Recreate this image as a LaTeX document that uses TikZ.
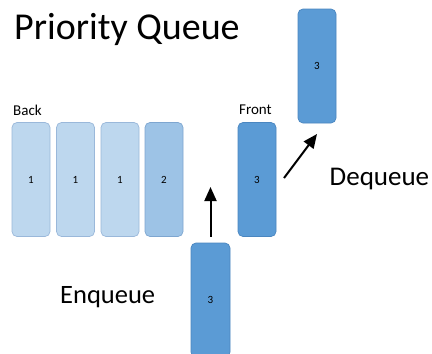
\documentclass[tikz,border=0pt]{standalone}
\usepackage{fontspec}
\setmainfont{Carlito}
\usetikzlibrary{arrows.meta}
\definecolor{lightfill}{HTML}{BDD7EE}
\definecolor{lightedge}{HTML}{9AB8DA}
\definecolor{midfill}{HTML}{9DC3E6}
\definecolor{midedge}{HTML}{7EA6D0}
\definecolor{darkfill}{HTML}{5B9BD5}
\definecolor{darkedge}{HTML}{4A86C0}
\tikzset{
  item/.style={rounded corners=5pt, minimum width=38pt, minimum height=114pt,
    inner sep=0pt, line width=0.7pt, font=\fontsize{11}{13}\selectfont},
  lowitem/.style={item, fill=lightfill, draw=lightedge},
  miditem/.style={item, fill=midfill, draw=midedge},
  topitem/.style={item, fill=darkfill, draw=darkedge},
  label/.style={anchor=base west, inner sep=0pt},
  move/.style={line width=2pt, -{Triangle[length=14pt, width=12pt]}}
}
\begin{document}
\begin{tikzpicture}[x=1pt, y=-1pt]
  \clip (0,0) rectangle (432,354);
  \fill[white] (0,0) rectangle (432,354);

  % title and side labels
  \node[label, font=\fontsize{38}{40}\selectfont] (title) at (14,39.3) {Priority Queue};
  \node[label, font=\fontsize{15}{17}\selectfont] (back) at (13,115) {Back};
  \node[label, font=\fontsize{15}{17}\selectfont] (front) at (239,114.3) {Front};
  \node[label, font=\fontsize{27}{30}\selectfont] (deq) at (329.5,185) {Dequeue};
  \node[label, font=\fontsize{26.5}{30}\selectfont] (enq) at (60,303) {Enqueue};

  % queue contents
  \node[lowitem] (q1) at (31,179.5) {1};
  \node[lowitem] (q2) at (75.5,179.5) {1};
  \node[lowitem] (q3) at (120,179.5) {1};
  \node[miditem] (q4) at (164,179.5) {2};
  \node[topitem] (qf) at (257,179.5) {3};

  % removed element and incoming element
  \node[topitem] (out) at (317,66) {3};
  \node[topitem, minimum width=39pt] (in) at (210.5,300) {3};

  % movement arrows
  \coordinate (inTail) at (210.5,236.5);
  \coordinate (inHead) at (210.5,187);
  \coordinate (outTail) at (284,178);
  \coordinate (outHead) at (317,134);
  \draw[move] (inTail) -- (inHead);
  \draw[move] (outTail) -- (outHead);
\end{tikzpicture}
\end{document}
